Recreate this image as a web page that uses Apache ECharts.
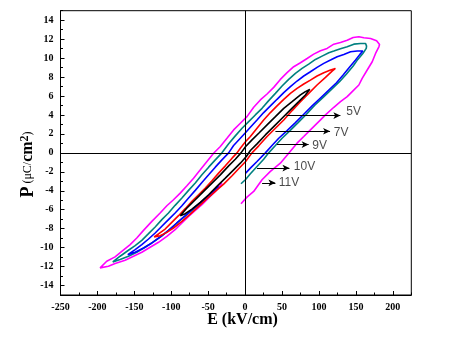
<!DOCTYPE html>
<html><head><meta charset="utf-8">
<script src="https://cdn.jsdelivr.net/npm/echarts@6/dist/echarts.min.js"></script>
<style>html,body{margin:0;padding:0;background:#fff}#c{width:454px;height:348px}</style>
</head><body><div id="c"></div>
<script>
// Tick label values
const xTickLabels = [-250,-200,-150,-100,-50,0,50,100,150,200];
const yTickLabels = [-14,-12,-10,-8,-6,-4,-2,0,2,4,6,8,10,12,14];
const xRange = [-250, 225];
const yRange = [-15, 15];

// Hysteresis loops [E (kV/cm), P (uC/cm2)]
const loop11V = [[-5.6,-5.37],[2.5,-4.67],[11.6,-4.07],[22.9,-2.84],[34.2,-1.96],[47.7,-1.09],[59.0,-0.04],[70.3,1.02],[79.4,1.72],[88.4,2.42],[99.7,3.30],[108.8,4.00],[120.1,4.81],[129.1,5.40],[138.2,5.93],[145.0,6.46],[154.0,7.16],[158.5,7.86],[165.3,8.74],[172.1,9.61],[176.6,10.49],[181.1,11.19],[182.0,11.44],
[178.0,11.82],[169.8,12.07],[160.8,12.14],[154.0,12.25],[146.3,12.18],[138.2,11.89],[129.1,11.65],[120.1,11.47],[111.0,11.02],[102.0,10.77],[92.9,10.42],[83.9,9.96],[74.9,9.51],[65.8,9.09],[56.8,8.46],[47.7,7.75],[38.7,6.91],[29.7,6.21],[20.6,5.58],[11.6,4.81],[2.5,3.82],[-6.5,3.12],[-15.6,2.42],[-24.6,1.54],[-33.6,0.67],[-42.7,-0.04],[-51.7,-0.91],[-60.7,-1.79],[-69.8,-2.67],[-78.8,-3.47],[-87.9,-4.25],[-97.0,-4.95],[-106.0,-5.58],[-115.1,-6.35],[-126.3,-7.23],[-137.6,-8.18],[-146.7,-8.98],[-155.7,-9.68],[-167.0,-10.39],[-176.1,-10.98],[-187.4,-11.44],[-196.4,-12.14],
[-185.1,-11.96],[-176.1,-11.68],[-162.5,-11.33],[-151.2,-10.91],[-139.9,-10.49],[-128.6,-9.96],[-117.3,-9.44],[-106.0,-8.81],[-94.8,-8.11],[-85.6,-7.40],[-76.6,-6.70],[-67.5,-6.07],[-58.5,-5.47],[-49.4,-4.77],[-40.4,-4.07],[-31.4,-3.19]];

const loop10V = [[-5.6,-3.26],[0.3,-2.84],[7.1,-2.21],[16.1,-1.44],[25.1,-0.67],[31.9,0],[41.0,0.77],[50.0,1.54],[60.4,2.32],[71.7,3.19],[83.0,4.07],[94.3,5.02],[105.6,5.86],[116.9,6.70],[127.8,7.51],[137.3,8.32],[146.3,9.16],[152.6,9.86],[159.4,10.49],[164.0,11.02],[164.4,11.26],
[163.1,11.54],[156.3,11.54],[147.2,11.47],[138.2,11.19],[129.1,10.98],[120.1,10.74],[113.3,10.56],[104.2,10.21],[95.2,9.86],[86.1,9.37],[77.1,8.91],[68.1,8.39],[59.0,7.75],[50.0,7.05],[41.0,6.28],[31.9,5.51],[22.9,4.70],[13.8,4.00],[4.8,3.30],[-4.2,2.60],[-13.3,1.79],[-22.3,0.95],[-31.4,0],[-40.4,-0.74],[-49.4,-1.51],[-58.5,-2.32],[-67.5,-3.19],[-76.6,-3.96],[-85.6,-4.77],[-94.8,-5.54],[-103.8,-6.35],[-112.8,-7.05],[-121.8,-7.82],[-130.8,-8.53],[-139.9,-9.23],[-148.9,-9.79],[-158.0,-10.28],[-169.3,-10.91],[-179.2,-11.51],
[-169.3,-11.26],[-158.0,-10.91],[-146.7,-10.49],[-135.4,-9.96],[-124.1,-9.40],[-112.8,-8.77],[-101.5,-8.04],[-90.2,-7.26],[-78.8,-6.53],[-67.5,-5.79],[-56.2,-5.09],[-44.9,-4.35]];

const loop9V = [[0.7,-2.14],[7.1,-1.61],[16.1,-0.91],[27.4,0],[36.4,0.77],[45.5,1.54],[56.8,2.35],[68.1,3.19],[79.4,4.07],[90.7,4.95],[102.0,5.79],[113.3,6.63],[123.7,7.40],[132.7,8.21],[141.8,9.09],[149.5,9.79],[155.4,10.39],[159.4,10.74],
[151.8,10.74],[142.7,10.67],[133.6,10.39],[124.6,10.14],[115.6,9.79],[106.5,9.44],[97.4,9.02],[88.4,8.56],[79.4,8.11],[70.3,7.58],[61.3,6.98],[52.3,6.35],[43.2,5.65],[34.2,4.95],[25.1,4.25],[16.1,3.47],[7.1,2.70],[0.7,2.14],[-6.5,1.54],[-15.6,0.77],[-22.3,0],[-31.4,-0.74],[-40.4,-1.51],[-49.4,-2.32],[-58.5,-3.12],[-67.5,-3.96],[-76.6,-4.77],[-85.6,-5.58],[-94.8,-6.35],[-103.8,-7.05],[-112.8,-7.75],[-121.8,-8.46],[-130.8,-9.09],[-139.9,-9.68],[-148.9,-10.21],[-158.9,-10.74],
[-148.9,-10.49],[-137.6,-10.04],[-126.3,-9.51],[-115.1,-8.88],[-103.8,-8.18],[-92.5,-7.40],[-81.1,-6.63],[-69.8,-5.86],[-58.5,-5.12],[-47.2,-4.35],[-35.9,-3.54]];

const loop7V = [[0.7,-0.91],[9.3,0],[18.4,0.74],[29.7,1.72],[41.0,2.60],[52.3,3.47],[63.6,4.46],[74.9,5.40],[86.1,6.28],[97.4,7.16],[108.8,7.96],[117.8,8.63],[122.3,8.91],
[115.6,8.74],[106.5,8.46],[97.4,8.11],[88.4,7.68],[79.4,7.26],[70.3,6.81],[61.3,6.28],[52.3,5.65],[43.2,4.95],[34.2,4.25],[25.1,3.47],[16.1,2.60],[7.1,1.72],[0.7,1.19],[-6.5,0.49],[-11.0,0],[-17.7,-0.56],[-26.8,-1.37],[-35.9,-2.14],[-44.9,-2.95],[-53.9,-3.72],[-63.0,-4.42],[-72.0,-5.12],[-81.1,-5.89],[-90.2,-6.63],[-99.3,-7.33],[-108.3,-8.04],[-117.3,-8.56],[-123.2,-8.88],
[-115.1,-8.74],[-106.0,-8.39],[-97.0,-7.93],[-85.6,-7.23],[-74.3,-6.46],[-63.0,-5.65],[-51.7,-4.84],[-40.4,-4.07],[-29.1,-3.30],[-17.7,-2.42],[-8.8,-1.68],[0.7,-0.91]];

const loop5V = [[-87.9,-6.63],[-78.8,-5.82],[-67.5,-4.95],[-56.2,-4.07],[-44.9,-3.19],[-33.6,-2.32],[-22.3,-1.37],[-13.3,-0.67],[-5.6,0],[0.7,0.67],[9.3,1.37],[18.4,2.07],[29.7,2.95],[41.0,3.82],[52.3,4.70],[63.6,5.40],[74.9,6.11],[81.6,6.46],[87.5,6.70],
[81.6,6.11],[72.6,5.40],[61.3,4.53],[50.0,3.65],[38.7,2.77],[27.4,1.89],[16.1,0.95],[7.1,0.25],[1.6,-0.39],[-6.5,-1.09],[-15.6,-1.79],[-26.8,-2.67],[-38.2,-3.54],[-49.4,-4.42],[-60.7,-5.23],[-72.0,-5.93],[-81.1,-6.42],[-87.9,-6.63]];

const loopNames = ['11V','10V','9V','7V','5V'];
const loopColors = ['#ff00ff','#008080','#0000ff','#ff0000','#000000'];

// Annotations
const annoText = ['5V','7V','9V','10V','11V'];
const arrowFromE = [56, 41, 43, 16, 23];
const arrowToE = [129, 115, 86, 60, 41];
const arrowP = [3.93, 2.28, 0.87, -1.61, -3.16];
const labelE = [137, 120, 91, 66, 45.5];
const labelP = [4.35, 2.14, 0.77, -1.44, -3.16];

const chart = echarts.init(document.getElementById('c'), null, {renderer:'canvas'});
const loops = [loop11V, loop10V, loop9V, loop7V, loop5V];

const tickFont = {fontFamily:'Liberation Serif', fontWeight:'bold', fontSize:10, color:'#000'};
const series = [];
series.push({
  type:'line', xAxisIndex:0, yAxisIndex:0, data:[], silent:true,
  markLine:{silent:true, symbol:['none','none'], label:{show:false}, animation:false,
    lineStyle:{color:'#000', width:1, type:'solid'},
    data:[{xAxis:0},{yAxis:0}]}
});
loops.forEach((d,i)=>{
  series.push({type:'line', name:loopNames[i], xAxisIndex:0, yAxisIndex:0, data:d,
    symbol:'none', showSymbol:false, smooth:false, animation:false,
    lineStyle:{color:loopColors[i], width:1.6}});
});
series.push({
  type:'line', xAxisIndex:0, yAxisIndex:0, data:[], silent:true,
  markLine:{silent:true, symbol:['none','arrow'], symbolSize:[5,7], label:{show:false}, animation:false,
    lineStyle:{color:'#000', width:1, type:'solid'},
    data: annoText.map((t,i)=>[{coord:[arrowFromE[i],arrowP[i]]},{coord:[arrowToE[i],arrowP[i]]}])}
});
series.push({
  type:'scatter', xAxisIndex:0, yAxisIndex:0, symbolSize:0, silent:true, animation:false,
  data: annoText.map((t,i)=>[labelE[i],labelP[i],t]),
  label:{show:true, position:'right', distance:0, formatter:p=>p.data[2],
    fontFamily:'Liberation Sans', fontSize:12, color:'#1a1a1a'}
});

const option = {
  backgroundColor:'#fff',
  animation:false,
  grid:[
    {left:60.5, right:42.7, top:10.7, bottom:53, show:true, borderColor:'#000', borderWidth:1, backgroundColor:'transparent'},
    {left:60.5, right:61.2, top:20.2, bottom:62.5, show:false}
  ],
  xAxis:[
    {type:'value', gridIndex:0, min:xRange[0], max:xRange[1], interval:25,
      axisLine:{show:true, onZero:false, lineStyle:{color:'#000', width:1}},
      axisTick:{show:true, inside:true, length:2.5, lineStyle:{color:'#000'}},
      axisLabel:{show:false}, splitLine:{show:false}},
    {type:'value', gridIndex:1, min:xTickLabels[0], max:xTickLabels[xTickLabels.length-1],
      interval:xTickLabels[1]-xTickLabels[0], offset:9.5,
      axisLine:{show:false, onZero:false},
      axisTick:{show:true, inside:true, length:4, lineStyle:{color:'#000'}},
      axisLabel:Object.assign({show:true, margin:7}, tickFont), splitLine:{show:false}}
  ],
  yAxis:[
    {type:'value', gridIndex:0, min:yRange[0], max:yRange[1], interval:1,
      axisLine:{show:true, onZero:false, lineStyle:{color:'#000', width:1}},
      axisTick:{show:true, inside:true, length:2.5, lineStyle:{color:'#000'}},
      axisLabel:{show:false}, splitLine:{show:false}},
    {type:'value', gridIndex:1, min:yTickLabels[0], max:yTickLabels[yTickLabels.length-1],
      interval:yTickLabels[1]-yTickLabels[0],
      axisLine:{show:false, onZero:false},
      axisTick:{show:true, inside:true, length:4, lineStyle:{color:'#000'}},
      axisLabel:Object.assign({show:true, margin:7}, tickFont), splitLine:{show:false}}
  ],
  graphic:[
    {type:'text', x:242.5, y:320, silent:true,
      style:{text:'E (kV/cm)', align:'center', verticalAlign:'middle',
        font:'bold 16px "Liberation Serif"', fill:'#000'}},
    {type:'text', x:28.3, y:164.5, rotation:Math.PI/2, silent:true,
      style:{text:'{p|P}{a| (\u03bcC/}{b|cm}{s|2}{c|)}', align:'center', verticalAlign:'middle', fill:'#000',
        rich:{
          p:{fontFamily:'Liberation Serif', fontWeight:'bold', fontSize:18, fill:'#000'},
          a:{fontFamily:'Liberation Serif', fontSize:12, fill:'#000'},
          b:{fontFamily:'Liberation Serif', fontWeight:'bold', fontSize:16, fill:'#000'},
          s:{fontFamily:'Liberation Serif', fontWeight:'bold', fontSize:12, fill:'#000', verticalAlign:'top'},
          c:{fontFamily:'Liberation Serif', fontSize:12, fill:'#000'}
        }}}
  ],
  series: series
};
chart.setOption(option);
</script>
</body></html>
